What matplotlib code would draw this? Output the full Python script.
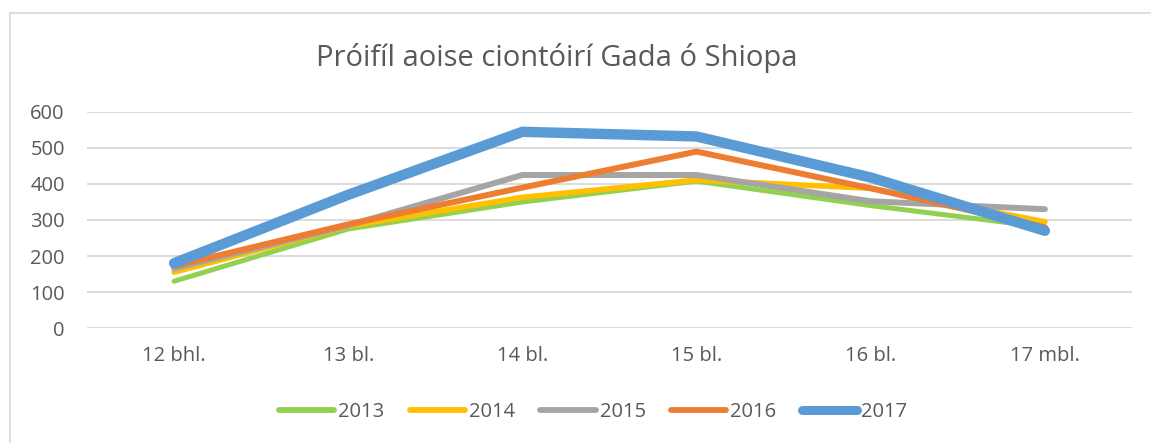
import matplotlib
matplotlib.use("Agg")
import matplotlib.pyplot as plt
from matplotlib.lines import Line2D

categories = ["12 bhl.", "13 bl.", "14 bl.", "15 bl.", "16 bl.", "17 mbl."]
years = ["2013", "2014", "2015", "2016", "2017"]
v2013 = [130, 275, 350, 408, 340, 280]
v2014 = [155, 283, 363, 411, 388, 295]
v2015 = [165, 285, 425, 425, 352, 330]
v2016 = [172, 288, 390, 490, 388, 280]
v2017 = [180, 370, 545, 532, 418, 270]
series = [v2013, v2014, v2015, v2016, v2017]
colors = ["#92D050", "#FFC000", "#A5A5A5", "#ED7D31", "#5B9BD5"]
widths = [3.6, 4.0, 4.3, 4.3, 7.5]
leg_widths = [4.2, 4.2, 4.2, 4.2, 6.5]

plt.rcParams['font.family'] = ['Open Sans', 'DejaVu Sans']
W, H = 1151, 443
fig = plt.figure(figsize=(W/100, H/100), dpi=100)
# chart frame (left and top edges visible)
fig.add_artist(Line2D([10/W, 10/W], [0, 1-13/H], transform=fig.transFigure, color="#D9D9D9", lw=1.2))
fig.add_artist(Line2D([10/W, 1], [1-13/H, 1-13/H], transform=fig.transFigure, color="#D9D9D9", lw=1.2))

ax = fig.add_axes([87/W, 1-328/H, (1132-87)/W, (328-112)/H])
x = list(range(len(categories)))
for vals, c, w, yr in zip(series, colors, widths, years):
    ax.plot(x, vals, color=c, linewidth=w, solid_capstyle='round', solid_joinstyle='round', label=yr)

ax.set_xlim(-0.5, 5.5)
ax.set_ylim(0, 600)
ax.set_yticks(range(0, 601, 100))
ax.set_xticks(x)
ax.set_xticklabels(categories)
ax.grid(axis='y', color="#D9D9D9", linewidth=1.3)
ax.set_axisbelow(True)
for s in ax.spines.values():
    s.set_visible(False)
ax.tick_params(axis='both', length=0, labelsize=14.5, labelcolor="#595959")
ax.tick_params(axis='x', pad=13)
ax.tick_params(axis='y', pad=16)

fig.text(557/W, 1-58/H, "Próifíl aoise ciontóirí Gada ó Shiopa", ha='center', va='center',
         fontsize=21, color="#595959")

handles = [Line2D([], [], color=c, lw=lw, solid_capstyle='round') for c, lw in zip(colors, leg_widths)]
leg = fig.legend(handles, years, loc='center', bbox_to_anchor=(593/W, 1-412/H), ncol=5, frameon=False,
                 fontsize=14.5, handlelength=2.75, columnspacing=1.25, handletextpad=0.2)
for t in leg.get_texts():
    t.set_color("#595959")
fig.savefig("out.png", dpi=100)
